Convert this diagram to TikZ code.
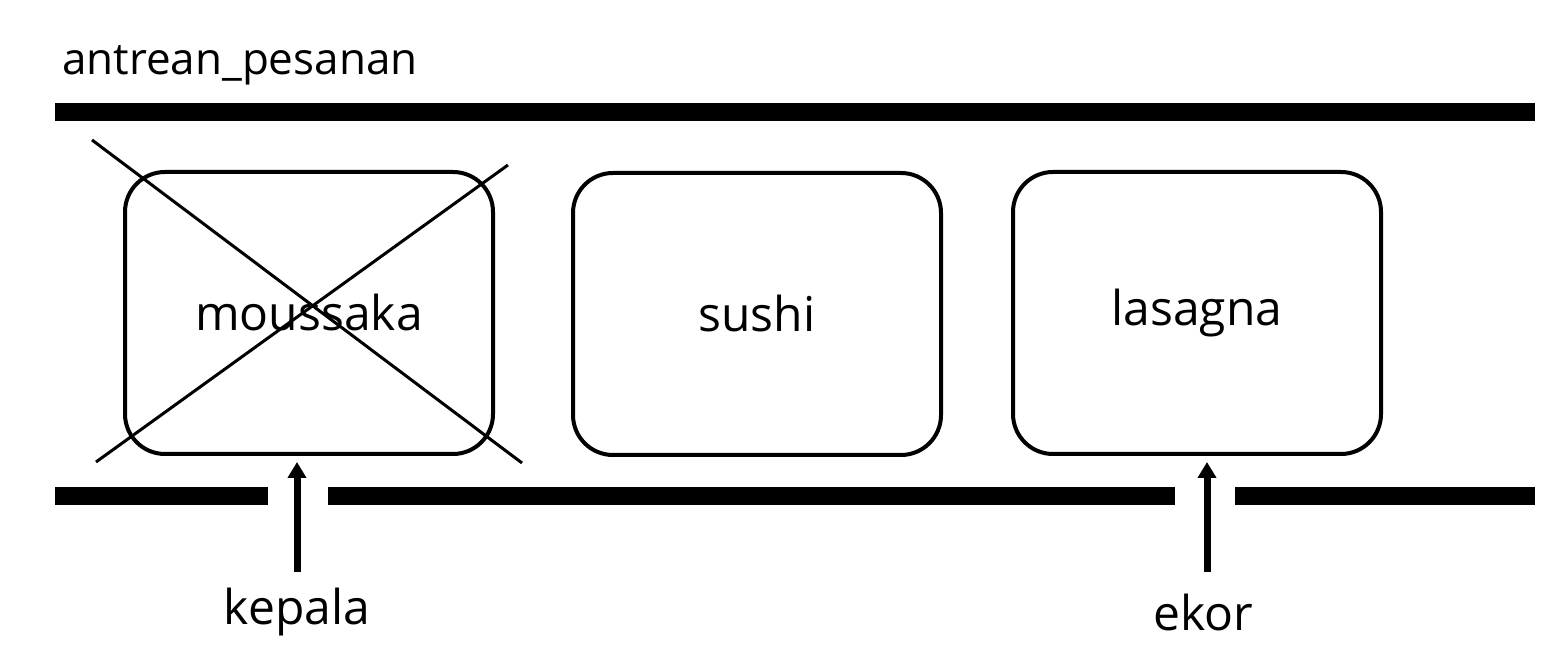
\documentclass[tikz,border=0pt]{standalone}
\usepackage{fontspec}
\setmainfont{Open Sans}
\usetikzlibrary{arrows.meta}
\begin{document}
\begin{tikzpicture}[x=0.5pt,y=-0.5pt,
  bar/.style={line width=9pt},
  item/.style={draw,line width=2pt,rounded corners=20pt,minimum width=184pt,minimum height=141pt,font=\fontsize{24}{28}\selectfont},
  ptr/.style={line width=3.5pt,-{Triangle[length=8pt,width=9pt]}},
  lbl/.style={font=\fontsize{24}{28}\selectfont},
  cross/.style={line width=1.5pt}]
\useasboundingbox (0,0) rectangle (1556,672);
\node[anchor=base west,font=\fontsize{22}{26}\selectfont] (title) at (55,75) {antrean\_pesanan};
\coordinate (t1) at (55,112); \coordinate (t2) at (1535,112);
\draw[bar] (t1) -- (t2);
\coordinate (b1) at (55,496); \coordinate (b2) at (268,496);
\coordinate (b3) at (328,496); \coordinate (b4) at (1175,496);
\coordinate (b5) at (1235,496); \coordinate (b6) at (1535,496);
\draw[bar] (b1) -- (b2); \draw[bar] (b3) -- (b4); \draw[bar] (b5) -- (b6);
\node[item] (m) at (309,313) {moussaka};
\node[item] (s) at (757,314) {sushi};
\node[item] (l) at (1197,313) {lasagna};
\coordinate (c1) at (92,140); \coordinate (c2) at (522,463);
\coordinate (c3) at (96,462); \coordinate (c4) at (508,165);
\draw[cross] (c1) -- (c2); \draw[cross] (c3) -- (c4);
\node[lbl] (kep) at (297,612) {kepala};
\node[lbl] (eko) at (1203,612) {ekor};
\coordinate (ah) at (297,462); \coordinate (ae) at (1207,462);
\draw[ptr] (297,572) -- (ah);
\draw[ptr] (1207,572) -- (ae);
\end{tikzpicture}
\end{document}
